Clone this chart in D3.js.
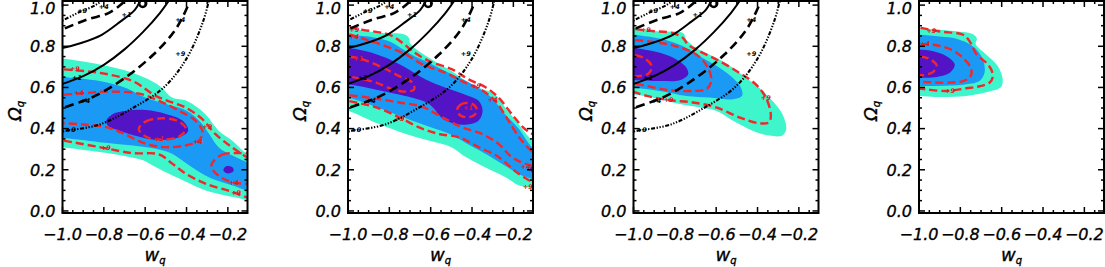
<!DOCTYPE html>
<html lang="en">
<head>
  <meta charset="UTF-8" />
  <title>w_q - Omega_q likelihood contours</title>
  <script src="https://d3js.org/d3.v7.min.js"></script>
  <style>
    body { margin: 0; background: #fff; }
    svg { display: block; }
    .tick-label {
      font-family: "DejaVu Sans", sans-serif;
      font-style: oblique;
      font-size: 16px;
      fill: #000;
      stroke: #000;
      stroke-width: 0.35px;
    }
    .axis-title {
      font-family: "DejaVu Sans", sans-serif;
      font-style: oblique;
      font-size: 18px;
      stroke: #000;
      stroke-width: 0.35px;
    }
    .clabel {
      font-family: "DejaVu Sans", sans-serif;
      font-size: 6.5px;
      font-weight: bold;
      font-style: oblique;
    }
  </style>
</head>
<body>
  <svg id="chart" width="1105" height="267"></svg>

  <script>
    const xTicks = [-1.0, -0.8, -0.6, -0.4, -0.2];
    const yTicks = [0.0, 0.2, 0.4, 0.6, 0.8, 1.0];

    // ---- panel 1 : filled regions [w, Omega] ----
    const p1Outer = [[-1.06,0.745],[-1.0,0.741],[-0.82,0.712],[-0.66,0.671],[-0.53,0.607],[-0.47,0.551],[-0.40,0.535],[-0.31,0.471],[-0.245,0.39],[-0.18,0.342],[-0.11,0.278],[-0.05,0.25],[-0.05,0.03],[-0.11,0.053],[-0.18,0.069],[-0.31,0.101],[-0.40,0.141],[-0.47,0.173],[-0.55,0.213],[-0.61,0.246],[-0.69,0.265],[-0.82,0.286],[-1.0,0.31],[-1.06,0.315]];
    const p1Mid = [[-1.06,0.655],[-1.0,0.651],[-0.82,0.631],[-0.69,0.596],[-0.6,0.551],[-0.5,0.519],[-0.40,0.487],[-0.34,0.439],[-0.29,0.374],[-0.245,0.31],[-0.18,0.27],[-0.11,0.238],[-0.05,0.22],[-0.05,0.09],[-0.11,0.101],[-0.18,0.125],[-0.28,0.158],[-0.34,0.19],[-0.40,0.23],[-0.47,0.278],[-0.55,0.302],[-0.66,0.318],[-0.82,0.334],[-1.0,0.355],[-1.06,0.36]];
    const p1Core = [[-0.788,0.439],[-0.756,0.471],[-0.692,0.487],[-0.596,0.49],[-0.5,0.471],[-0.42,0.439],[-0.392,0.39],[-0.436,0.358],[-0.532,0.345],[-0.628,0.361],[-0.724,0.39],[-0.78,0.414]];
    const p1CoreB = [[-0.222,0.2],[-0.205,0.218],[-0.178,0.212],[-0.172,0.195],[-0.19,0.183],[-0.212,0.186]];
    // panel 1 : red dashed contours
    const p1Sig9a = [[-1.05,0.694],[-0.997,0.688],[-0.821,0.671],[-0.661,0.631],[-0.549,0.559],[-0.469,0.527],[-0.405,0.503],[-0.325,0.447],[-0.261,0.374],[-0.181,0.31],[-0.109,0.262],[-0.05,0.235]];
    const p1Sig9b = [[-1.05,0.35],[-0.997,0.342],[-0.821,0.31],[-0.661,0.281],[-0.533,0.275],[-0.469,0.23],[-0.405,0.182],[-0.309,0.133],[-0.181,0.093],[-0.109,0.066],[-0.05,0.05]];
    const p1Sig4a = [[-1.05,0.562],[-0.997,0.564],[-0.885,0.573],[-0.773,0.58],[-0.629,0.570],[-0.533,0.535],[-0.437,0.487],[-0.357,0.439],[-0.322,0.382],[-0.341,0.342],[-0.405,0.318],[-0.501,0.31],[-0.597,0.326],[-0.693,0.37],[-0.78,0.405],[-0.9,0.42],[-1.0,0.426],[-1.05,0.428]];
    const p1Sig4b = [[-0.277,0.23],[-0.229,0.273],[-0.149,0.281],[-0.06,0.27],[-0.02,0.2],[-0.06,0.14],[-0.165,0.137],[-0.237,0.165],[-0.277,0.206]];
    const p1Sig1 = [[-0.631,0.398],[-0.598,0.434],[-0.517,0.45],[-0.436,0.434],[-0.403,0.398],[-0.436,0.362],[-0.517,0.346],[-0.598,0.362]];
    const p1Labels = [["+9",-0.94,0.69],["+4",-0.92,0.572],["+1",-0.533,0.352],["+4",-0.345,0.335],["+9",-0.30,0.41],["+9",-0.79,0.305],["+4",-0.17,0.137],["+9",-0.16,0.088]];

    // ---- panel 2 ----
    const p2Outer = [[-1.06,0.89],[-1.0,0.888],[-0.85,0.866],[-0.73,0.858],[-0.705,0.84],[-0.70,0.815],[-0.61,0.745],[-0.50,0.68],[-0.43,0.632],[-0.37,0.6],[-0.29,0.567],[-0.24,0.503],[-0.175,0.422],[-0.11,0.342],[-0.05,0.3],[-0.05,0.08],[-0.11,0.11],[-0.175,0.125],[-0.24,0.165],[-0.34,0.214],[-0.43,0.262],[-0.50,0.31],[-0.61,0.342],[-0.72,0.374],[-0.85,0.422],[-1.0,0.487],[-1.06,0.5]];
    const p2Mid = [[-1.06,0.86],[-1.0,0.857],[-0.86,0.84],[-0.79,0.82],[-0.70,0.764],[-0.60,0.715],[-0.49,0.66],[-0.39,0.61],[-0.31,0.555],[-0.24,0.47],[-0.175,0.40],[-0.11,0.31],[-0.05,0.27],[-0.05,0.12],[-0.11,0.155],[-0.175,0.18],[-0.24,0.22],[-0.34,0.28],[-0.43,0.33],[-0.50,0.37],[-0.61,0.41],[-0.72,0.45],[-0.85,0.50],[-1.0,0.55],[-1.06,0.55]];
    const p2Core = [[-1.06,0.795],[-1.0,0.792],[-0.912,0.776],[-0.816,0.744],[-0.72,0.696],[-0.624,0.639],[-0.528,0.599],[-0.432,0.565],[-0.368,0.535],[-0.349,0.487],[-0.368,0.439],[-0.432,0.419],[-0.528,0.439],[-0.608,0.52],[-0.688,0.55],[-0.784,0.572],[-0.896,0.596],[-1.0,0.615],[-1.06,0.615]];
    const p2CoreB = [[-0.12,0.205],[-0.105,0.225],[-0.09,0.205],[-0.105,0.185]];
    const p2Sig9a = [[-1.05,0.9],[-1.0,0.893],[-0.928,0.88],[-0.8,0.856],[-0.736,0.816],[-0.688,0.776],[-0.608,0.728],[-0.496,0.688],[-0.416,0.639],[-0.336,0.602],[-0.272,0.551],[-0.208,0.471],[-0.144,0.398],[-0.08,0.358],[-0.04,0.34]];
    const p2Sig9b = [[-1.05,0.545],[-1.0,0.535],[-0.864,0.503],[-0.752,0.455],[-0.656,0.406],[-0.56,0.374],[-0.464,0.358],[-0.368,0.31],[-0.272,0.262],[-0.176,0.182],[-0.08,0.125],[-0.04,0.11]];
    const p2Sig4a = [[-1.05,0.87],[-1.016,0.864],[-0.912,0.832],[-0.816,0.8],[-0.72,0.76],[-0.64,0.712],[-0.528,0.671],[-0.432,0.623],[-0.352,0.586],[-0.288,0.535],[-0.224,0.439],[-0.16,0.342],[-0.08,0.262],[-0.04,0.24]];
    const p2Sig4b = [[-1.05,0.567],[-1.016,0.564],[-0.88,0.548],[-0.752,0.527],[-0.64,0.506],[-0.544,0.455],[-0.448,0.406],[-0.352,0.374],[-0.272,0.326],[-0.208,0.262],[-0.144,0.23],[-0.08,0.214],[-0.04,0.21]];
    const p2Sig1a = [[-1.05,0.755],[-1.016,0.752],[-0.944,0.741],[-0.848,0.704],[-0.752,0.655],[-0.688,0.623],[-0.68,0.591],[-0.72,0.58],[-0.784,0.591],[-0.864,0.623],[-0.944,0.644],[-1.016,0.655],[-1.05,0.657]];
    const p2Sig1b = [[-0.472,0.49],[-0.458,0.515],[-0.424,0.525],[-0.39,0.515],[-0.376,0.49],[-0.39,0.465],[-0.424,0.455],[-0.458,0.465]];
    const p2Labels = [["+9",-0.97,0.88],["+4",-0.97,0.845],["+1",-0.95,0.74],["+9",-0.38,0.61],["+4",-0.30,0.54],["+9",-0.75,0.45],["+1",-0.42,0.5],["+4",-0.14,0.215],["+9",-0.13,0.12]];

    // ---- panel 3 ----
    const p3Outer = [[-1.06,0.89],[-1,0.888],[-0.872,0.872],[-0.76,0.864],[-0.744,0.832],[-0.696,0.792],[-0.6,0.744],[-0.52,0.696],[-0.456,0.647],[-0.392,0.599],[-0.328,0.535],[-0.28,0.471],[-0.261,0.398],[-0.28,0.366],[-0.344,0.366],[-0.424,0.39],[-0.52,0.439],[-0.6,0.487],[-0.68,0.503],[-0.776,0.519],[-0.872,0.543],[-1,0.567],[-1.06,0.57]];
    const p3Mid = [[-1.06,0.86],[-1,0.856],[-0.888,0.84],[-0.824,0.824],[-0.76,0.8],[-0.68,0.752],[-0.584,0.696],[-0.52,0.647],[-0.48,0.599],[-0.475,0.56],[-0.52,0.543],[-0.632,0.551],[-0.744,0.559],[-0.872,0.583],[-1,0.599],[-1.06,0.6]];
    const p3Core = [[-1.06,0.795],[-1,0.792],[-0.872,0.768],[-0.792,0.736],[-0.744,0.696],[-0.736,0.663],[-0.776,0.635],[-0.872,0.631],[-1,0.635],[-1.06,0.635]];
    const p3Sig9 = [[-1.05,0.892],[-1.016,0.888],[-0.936,0.876],[-0.808,0.864],[-0.76,0.84],[-0.736,0.808],[-0.68,0.776],[-0.584,0.728],[-0.488,0.671],[-0.408,0.615],[-0.36,0.551],[-0.336,0.471],[-0.344,0.431],[-0.392,0.426],[-0.488,0.455],[-0.6,0.503],[-0.712,0.527],[-0.824,0.538],[-0.936,0.559],[-1.016,0.583],[-1.05,0.59]];
    const p3Sig4 = [[-1.05,0.835],[-1.016,0.832],[-0.904,0.821],[-0.792,0.8],[-0.696,0.76],[-0.64,0.696],[-0.624,0.631],[-0.648,0.591],[-0.712,0.583],[-0.824,0.586],[-0.936,0.607],[-1.016,0.623],[-1.05,0.625]];
    const p3Sig1 = [[-1.05,0.762],[-1.016,0.76],[-0.952,0.744],[-0.912,0.704],[-0.928,0.667],[-0.976,0.655],[-1.016,0.655],[-1.05,0.655]];
    const p3Labels = [["+9",-0.94,0.88],["+9",-0.83,0.54],["+9",-0.36,0.55]];

    // ---- panel 4 ----
    const p4Outer = [[-1.06,0.89],[-1,0.888],[-0.851,0.876],[-0.739,0.859],[-0.72,0.837],[-0.726,0.811],[-0.675,0.76],[-0.619,0.704],[-0.595,0.639],[-0.603,0.602],[-0.659,0.58],[-0.771,0.559],[-0.899,0.554],[-1,0.559],[-1.06,0.56]];
    const p4Mid = [[-1.06,0.86],[-1,0.856],[-0.899,0.848],[-0.819,0.837],[-0.739,0.8],[-0.691,0.736],[-0.683,0.671],[-0.707,0.631],[-0.771,0.615],[-0.899,0.607],[-1,0.607],[-1.06,0.607]];
    const p4Core = [[-1.06,0.785],[-1,0.784],[-0.931,0.776],[-0.867,0.752],[-0.827,0.712],[-0.851,0.671],[-0.915,0.651],[-1,0.647],[-1.06,0.647]];
    const p4Sig9 = [[-1.05,0.895],[-1.011,0.892],[-0.899,0.872],[-0.787,0.856],[-0.755,0.824],[-0.723,0.763],[-0.675,0.72],[-0.651,0.688],[-0.643,0.651],[-0.659,0.623],[-0.707,0.606],[-0.771,0.596],[-0.867,0.583],[-0.963,0.59],[-1.011,0.596],[-1.05,0.597]];
    const p4Sig4 = [[-1.05,0.812],[-1.011,0.811],[-0.915,0.805],[-0.835,0.779],[-0.779,0.736],[-0.747,0.688],[-0.752,0.651],[-0.787,0.631],[-0.867,0.623],[-0.947,0.625],[-1.011,0.628],[-1.05,0.628]];
    const p4Sig1 = [[-1.05,0.753],[-1.011,0.752],[-0.955,0.741],[-0.915,0.708],[-0.931,0.676],[-0.979,0.66],[-1.011,0.66],[-1.05,0.66]];
    const p4Labels = [["+9",-0.94,0.875],["+4",-0.97,0.81],["+9",-0.85,0.582]];

    // ---- black chi-square contours (panels 1-3) ----
    const chiDotIn = [[-1.05,0.9],[-1.0,0.925],[-0.92,0.965],[-0.84,1.0],[-0.80,1.03]];
    const chiDashIn = [[-1.05,0.86],[-1.0,0.882],[-0.88,0.93],[-0.78,0.96],[-0.72,1.0],[-0.69,1.03]];
    const chiSolidIn = [[-1.05,0.785],[-1.0,0.792],[-0.91,0.816],[-0.81,0.856],[-0.72,0.92],[-0.65,0.977],[-0.62,1.03]];
    const chiSolidOut = [[-1.05,0.6],[-1.0,0.617],[-0.9,0.655],[-0.8,0.71],[-0.70,0.785],[-0.61,0.87],[-0.53,0.96],[-0.48,1.03]];
    const chiDashOut = [[-1.05,0.48],[-1.0,0.499],[-0.84,0.56],[-0.70,0.645],[-0.56,0.76],[-0.46,0.872],[-0.41,0.96],[-0.38,1.03]];
    const chiDotOut = [[-1.05,0.37],[-1.0,0.385],[-0.82,0.42],[-0.66,0.50],[-0.51,0.60],[-0.40,0.74],[-0.32,0.92],[-0.29,1.03]];
    const chiBest = [-0.612, 1.008];
    const chiLabels = [["+9",-0.905,0.975],["+4",-0.80,0.99],["+1",-0.69,0.955],["+1",-0.93,0.645],["+4",-0.89,0.535],["+4",-0.43,0.93],["+9",-0.43,0.765],["+9",-0.96,0.395]];

    const panelLeft = [62.5, 348, 633.5, 919];
    const panelW = 185, panelTop = 1, panelH = 212;

    const fillColors = ["#3ff5cc", "#1a9af5", "#5214c4"];

    const panels = [
      { fills: [[p1Outer], [p1Mid], [p1Core, p1CoreB]], open: [p1Sig9a, p1Sig9b, p1Sig4a], closed: [p1Sig4b, p1Sig1], labels: p1Labels, chi: true },
      { fills: [[p2Outer], [p2Mid], [p2Core, p2CoreB]], open: [p2Sig9a, p2Sig9b, p2Sig4a, p2Sig4b, p2Sig1a], closed: [p2Sig1b], labels: p2Labels, chi: true },
      { fills: [[p3Outer], [p3Mid], [p3Core]], open: [p3Sig9, p3Sig4, p3Sig1], closed: [], labels: p3Labels, chi: true },
      { fills: [[p4Outer], [p4Mid], [p4Core]], open: [p4Sig9, p4Sig4, p4Sig1], closed: [], labels: p4Labels, chi: false }
    ];

    const svg = d3.select("#chart");

    const x = d3.scaleLinear().domain([-1.0, -0.105]).range([0, panelW]);
    const y = d3.scaleLinear().domain([-0.01, 1.02]).range([panelH, 0]);

    const closedLine = d3.line().x(d => x(d[0])).y(d => y(d[1])).curve(d3.curveCatmullRomClosed.alpha(0.5));
    const openLine = d3.line().x(d => x(d[0])).y(d => y(d[1])).curve(d3.curveCatmullRom.alpha(0.5));

    const dashDot = "4,1.6,1.3,1.6,1.3,1.6,1.3,1.6";
    const chiStyles = [
      { pts: chiDotIn, dash: dashDot, w: 2.1 },
      { pts: chiDashIn, dash: "9,5", w: 2.6 },
      { pts: chiSolidIn, dash: null, w: 2 },
      { pts: chiSolidOut, dash: null, w: 2 },
      { pts: chiDashOut, dash: "9,5", w: 2.6 },
      { pts: chiDotOut, dash: dashDot, w: 2.1 }
    ];

    const xMinor = d3.range(-1.0, -0.105, 0.05);
    const yMinor = d3.range(0, 1.0001, 0.05);

    panels.forEach((p, i) => {
      const g = svg.append("g").attr("transform", `translate(${panelLeft[i]},${panelTop})`);

      g.append("clipPath").attr("id", "clip" + i)
        .append("rect").attr("width", panelW).attr("height", panelH);

      const body = g.append("g").attr("clip-path", `url(#clip${i})`);

      // filled confidence regions
      p.fills.forEach((shapes, k) => {
        body.selectAll(null).data(shapes).enter()
          .append("path")
          .attr("d", closedLine)
          .attr("fill", fillColors[k]);
      });

      // red dashed contours
      body.selectAll(null).data(p.open).enter()
        .append("path")
        .attr("d", openLine)
        .attr("fill", "none")
        .attr("stroke", "#f4262a")
        .attr("stroke-width", 2.4)
        .attr("stroke-dasharray", "8,4");
      body.selectAll(null).data(p.closed).enter()
        .append("path")
        .attr("d", closedLine)
        .attr("fill", "none")
        .attr("stroke", "#f4262a")
        .attr("stroke-width", 2.4)
        .attr("stroke-dasharray", "8,4");

      body.selectAll(null).data(p.labels).enter()
        .append("text")
        .attr("class", "clabel")
        .attr("x", d => x(d[1]))
        .attr("y", d => y(d[2]))
        .attr("dy", "0.35em")
        .attr("text-anchor", "middle")
        .attr("fill", "#e01818")
        .text(d => d[0]);

      if (p.chi) {
        chiStyles.forEach(s => {
          body.append("path")
            .attr("d", openLine(s.pts))
            .attr("fill", "none")
            .attr("stroke", "#000")
            .attr("stroke-width", s.w)
            .attr("stroke-dasharray", s.dash);
        });
        body.append("circle")
          .attr("cx", x(chiBest[0]))
          .attr("cy", y(chiBest[1]))
          .attr("r", 3.5)
          .attr("fill", "none")
          .attr("stroke", "#000")
          .attr("stroke-width", 2.5);
        body.selectAll(null).data(chiLabels).enter()
          .append("text")
          .attr("class", "clabel")
          .attr("x", d => x(d[1]))
          .attr("y", d => y(d[2]))
          .attr("dy", "0.35em")
          .attr("text-anchor", "middle")
          .attr("fill", "#000")
          .text(d => d[0]);
      }

      // frame
      g.append("rect")
        .attr("width", panelW)
        .attr("height", panelH)
        .attr("fill", "none")
        .attr("stroke", "#000")
        .attr("stroke-width", 2);

      // ticks on all four sides
      const tk = g.append("g").attr("stroke", "#000").attr("stroke-width", 1.5);
      xMinor.forEach(v => {
        const major = xTicks.some(t => Math.abs(t - v) < 1e-6);
        const len = major ? 6 : 3;
        tk.append("line").attr("x1", x(v)).attr("x2", x(v)).attr("y1", panelH).attr("y2", panelH - len);
        tk.append("line").attr("x1", x(v)).attr("x2", x(v)).attr("y1", 0).attr("y2", len);
      });
      yMinor.forEach(v => {
        const major = yTicks.some(t => Math.abs(t - v) < 1e-6);
        const len = major ? 6 : 3;
        tk.append("line").attr("x1", 0).attr("x2", len).attr("y1", y(v)).attr("y2", y(v));
        tk.append("line").attr("x1", panelW).attr("x2", panelW - len).attr("y1", y(v)).attr("y2", y(v));
      });

      // tick labels
      g.selectAll(null).data(xTicks).enter()
        .append("text")
        .attr("class", "tick-label")
        .attr("x", d => x(d))
        .attr("y", 239.5 - panelTop)
        .attr("text-anchor", "middle")
        .text(d => d3.format(".1f")(d).replace("-", "\u2212"));

      g.selectAll(null).data(yTicks).enter()
        .append("text")
        .attr("class", "tick-label")
        .attr("x", -7)
        .attr("y", d => Math.max(y(d) + 5.8, 13))
        .attr("text-anchor", "end")
        .text(d => d3.format(".1f")(d));

      // axis titles
      const xt = g.append("text")
        .attr("class", "axis-title")
        .attr("x", panelW / 2)
        .attr("y", 261 - panelTop)
        .attr("text-anchor", "middle");
      xt.append("tspan").text("w");
      xt.append("tspan").attr("font-size", "10px").attr("dy", 3).text("q");

      const yt = g.append("text")
        .attr("class", "axis-title")
        .attr("transform", `translate(-42,${panelH / 2 + 4}) rotate(-90)`)
        .attr("text-anchor", "middle");
      yt.append("tspan").text("\u03a9");
      yt.append("tspan").attr("font-size", "10px").attr("dy", 3).text("q");
    });
  </script>
</body>
</html>
